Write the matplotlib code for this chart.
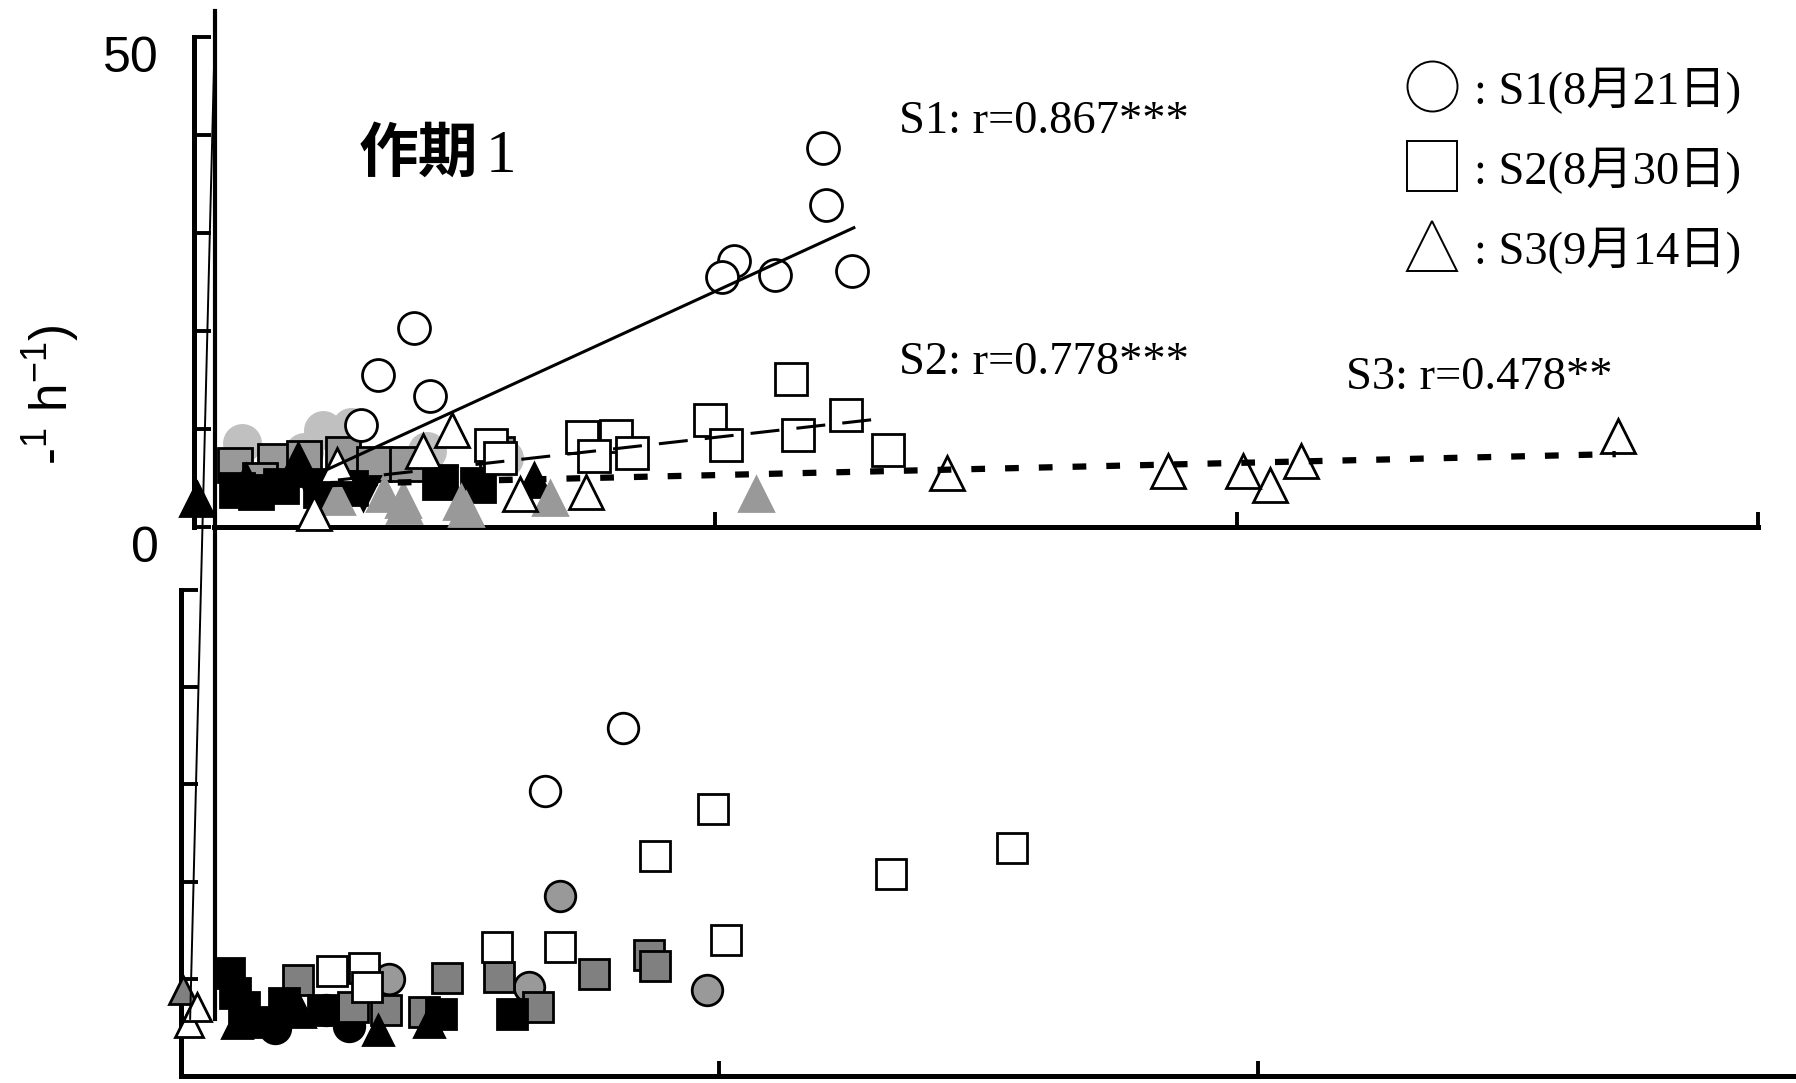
import matplotlib.pyplot as plt
import matplotlib.transforms as mtransforms
from matplotlib.lines import Line2D

plt.rcParams['mathtext.fontset'] = 'custom'
plt.rcParams['mathtext.rm'] = 'Liberation Sans'
plt.rcParams['mathtext.it'] = 'Liberation Sans'
plt.rcParams['mathtext.default'] = 'regular'

SERIF = ['Liberation Serif', 'Noto Sans CJK JP']
SANS = ['Liberation Sans', 'DejaVu Sans']

# ---- upper panel (作期1) ----
s1_x = [1.207, 1.213, 1.037, 1.013, 1.114, 1.262, 0.422, 0.354, 0.453, 0.321]
s1_y = [38.6, 32.8, 27.1, 25.5, 25.7, 26.1, 20.3, 15.5, 13.3, 10.4]
s2_x = [1.145, 0.991, 1.251, 1.158, 1.020, 1.332, 0.745, 0.809, 0.767, 0.840, 0.571, 0.587]
s2_y = [15.1, 10.9, 11.4, 9.3, 8.3, 7.8, 9.1, 9.2, 7.2, 7.5, 8.3, 7.0]
s3_x = [2.732, 2.123, 2.064, 2.013, 1.868, 1.444, 0.752, 0.626, 0.495, 0.440, 0.275, 0.231]
s3_y = [9.2, 6.7, 4.2, 5.7, 5.7, 5.5, 3.5, 3.3, 9.9, 7.7, 6.3, 1.4]

lgc_x = [0.092, 0.248, 0.301, 0.448, 0.211, 0.596]
lgc_y = [8.5, 9.9, 10.2, 7.7, 7.6, 7.0]
gsq_x = [0.079, 0.156, 0.211, 0.286, 0.345, 0.582, 0.127, 0.409]
gsq_y = [6.3, 6.7, 7.0, 7.4, 6.4, 7.4, 4.8, 6.4]
bsq_x = [0.084, 0.167, 0.473, 0.545, 0.244, 0.120, 0.300]
bsq_y = [3.7, 4.1, 4.6, 4.2, 3.7, 3.5, 3.9]
btri_x = [0.200, 0.653, 0.101, 0.007]
btri_y = [6.8, 4.8, 4.7, 2.8]
bdown_x = [0.325, 0.226]
bdown_y = [3.4, 4.1]
gtri_x = [0.275, 0.402, 0.404, 0.512, 0.523, 0.684, 1.079, 0.365]
gtri_y = [3.0, 2.7, 2.1, 2.5, 1.8, 2.9, 3.3, 3.3]

# regression lines (end points)
fit1_x, fit1_y = [0.255, 1.266], [5.8, 30.5]
fit2_x, fit2_y = [0.101, 1.316], [3.7, 11.0]
fit3_x, fit3_y = [0.068, 2.727], [4.1, 7.4]

labels_r = ['S1: r=0.867***', 'S2: r=0.778***', 'S3: r=0.478**']
legend_txt = [': S1(8月21日)', ': S2(8月30日)', ': S3(9月14日)']

# ---- lower panel ----
b_oc_x = [0.821, 0.677]
b_oc_y = [35.8, 29.3]
b_os_x = [0.989, 0.881, 1.319, 1.543, 1.013, 0.587, 0.704, 0.281, 0.340, 0.345]
b_os_y = [27.5, 22.6, 20.8, 23.4, 14.0, 13.3, 13.3, 10.8, 11.1, 9.2]
b_gc_x = [0.704, 0.977, 0.647, 0.387]
b_gc_y = [18.5, 8.9, 9.2, 10.0]
b_gs_x = [0.217, 0.494, 0.591, 0.768, 0.870, 0.881, 0.664, 0.319, 0.381, 0.451]
b_gs_y = [9.9, 10.1, 10.2, 10.5, 12.4, 11.3, 7.1, 7.1, 6.8, 6.6]
b_bs_x = [0.089, 0.100, 0.191, 0.264, 0.483, 0.615, 0.117, 0.150]
b_bs_y = [10.6, 8.5, 7.5, 6.8, 6.4, 6.4, 7.1, 5.6]
b_bc_x = [0.174, 0.313, 0.270]
b_bc_y = [4.9, 5.2, 6.8]
b_bt_x = [0.104, 0.366, 0.460, 0.221]
b_bt_y = [5.5, 4.7, 5.6, 6.6]
b_gt_x = [0.004]
b_gt_y = [8.8]
b_ot_x = [0.015, 0.030]
b_ot_y = [5.5, 7.1]

fig = plt.figure(figsize=(17.96, 10.83), dpi=100)


def box(x0, y0, x1, y1):
    # layout grid: 1568 x 946 units, origin top-left
    return [x0 / 1568, 1 - y1 / 946, (x1 - x0) / 1568, (y1 - y0) / 946]


def style_axes(ax, xb0, xticks, show_labels):
    ax.set_xlim(0, 3)
    ax.set_ylim(0, 50)
    ax.patch.set_alpha(0)
    for s in ['top', 'right']:
        ax.spines[s].set_visible(False)
    ax.spines['left'].set_linewidth(3.6)
    ax.spines['bottom'].set_linewidth(3.6)
    ax.spines['left'].set_bounds(0, 50)
    ax.spines['bottom'].set_bounds(xb0, 3)
    ax.set_xticks(xticks)
    ax.set_yticks([0, 10, 20, 30, 40, 50])
    ax.tick_params(axis='x', direction='in', length=11, width=2.8, labelbottom=False)
    ax.tick_params(axis='y', direction='in', length=12, width=2.8, pad=25,
                   labelsize=36)
    if show_labels:
        ax.set_yticklabels(['0', '', '', '', '', '50'], family=SANS)
        shift = mtransforms.ScaledTranslation(0, -0.17, fig.dpi_scale_trans)
        for lab in ax.get_yticklabels():
            lab.set_transform(lab.get_transform() + shift)
    else:
        ax.set_yticklabels([])


def pts(ax, x, y, marker, fc, ec='black', ms=23, mew=2.0, z=3):
    ax.plot(x, y, ls='none', marker=marker, ms=ms, mfc=fc, mec=ec, mew=mew,
            clip_on=False, zorder=z)


ax1 = fig.add_axes(box(169, 32, 1535, 460))
style_axes(ax1, 0.04, [1, 2, 3], True)

pts(ax1, lgc_x, lgc_y, 'o', '#c0c0c0', ec='#c0c0c0', ms=26, z=2)
pts(ax1, gsq_x, gsq_y, 's', '#999999', ms=25, z=3)
pts(ax1, bsq_x, bsq_y, 's', 'black', ms=25, z=3)
pts(ax1, btri_x, btri_y, '^', 'black', ms=25, z=3)
pts(ax1, bdown_x, bdown_y, 'v', 'black', ms=25, z=3)
pts(ax1, gtri_x, gtri_y, '^', '#999999', ec='#999999', ms=25, z=3)
pts(ax1, s2_x, s2_y, 's', 'white', ms=23, z=4)
pts(ax1, s1_x, s1_y, 'o', 'white', ms=23, z=4)
pts(ax1, s3_x, s3_y, '^', 'white', ms=24, z=4)

ax1.plot(fit1_x, fit1_y, color='black', lw=2.2, zorder=5)
ax1.plot(fit2_x, fit2_y, color='black', lw=2.2, dashes=(9.5, 5.6), zorder=5)
ax1.plot(fit3_x, fit3_y, color='black', lw=4.5, dashes=(2.2, 3.2), zorder=5)

ax2 = fig.add_axes(box(158, 515, 1568, 940))
style_axes(ax2, 0, [1, 2], False)

pts(ax2, b_gc_x, b_gc_y, 'o', '#999999', ms=22)
pts(ax2, b_bc_x, b_bc_y, 'o', 'black', ms=22)
pts(ax2, b_gs_x, b_gs_y, 's', '#808080', ms=22)
pts(ax2, b_bs_x, b_bs_y, 's', 'black', ms=22)
pts(ax2, b_bt_x, b_bt_y, '^', 'black', ms=22)
pts(ax2, b_gt_x, b_gt_y, '^', '#808080', ms=20)
pts(ax2, b_os_x, b_os_y, 's', 'white', ms=22, z=4)
pts(ax2, b_oc_x, b_oc_y, 'o', 'white', ms=22, z=4)
pts(ax2, b_ot_x, b_ot_y, '^', 'white', ms=20, z=4)

# long axis strokes through both panels
fig.add_artist(Line2D([188 / 1568, 188 / 1568], [1 - 10 / 946, 1 - 890 / 946],
                      color='black', lw=3.0, transform=fig.transFigure))
fig.add_artist(Line2D([188 / 1568, 166 / 1568], [1 - 12 / 946, 1 - 890 / 946],
                      color='black', lw=1.4, transform=fig.transFigure))

# labels
fig.text(45 / 1568, 1 - 345 / 946, r'-$^{1}$ h$^{-1}$)', rotation=90,
         ha='center', va='center', fontsize=37, family=SANS)
fig.text(313 / 1568, 1 - 150 / 946, '作期', fontsize=43, weight='bold',
         family=['Noto Sans CJK JP'], ha='left', va='baseline')
fig.text(424 / 1568, 1 - 150 / 946, '1', fontsize=44, family=SERIF,
         ha='left', va='baseline')

r_pos = [(785, 116), (785, 327), (1175, 340)]
for (px, py), t in zip(r_pos, labels_r):
    fig.text(px / 1568, 1 - py / 946, t, fontsize=33.5, family=SERIF,
             ha='left', va='baseline')

leg_marks = ['o', 's', '^']
leg_y = [75, 145, 215]
for m, py, t in zip(leg_marks, leg_y, legend_txt):
    fig.add_artist(Line2D([1250 / 1568], [1 - py / 946], marker=m, ms=36,
                          mfc='white', mec='black', mew=1.4, ls='none',
                          transform=fig.transFigure))
    fig.text(1287 / 1568, 1 - (py + 16) / 946, t, fontsize=33.5, family=SERIF,
             ha='left', va='baseline')

fig.savefig('out.png', dpi=100)
